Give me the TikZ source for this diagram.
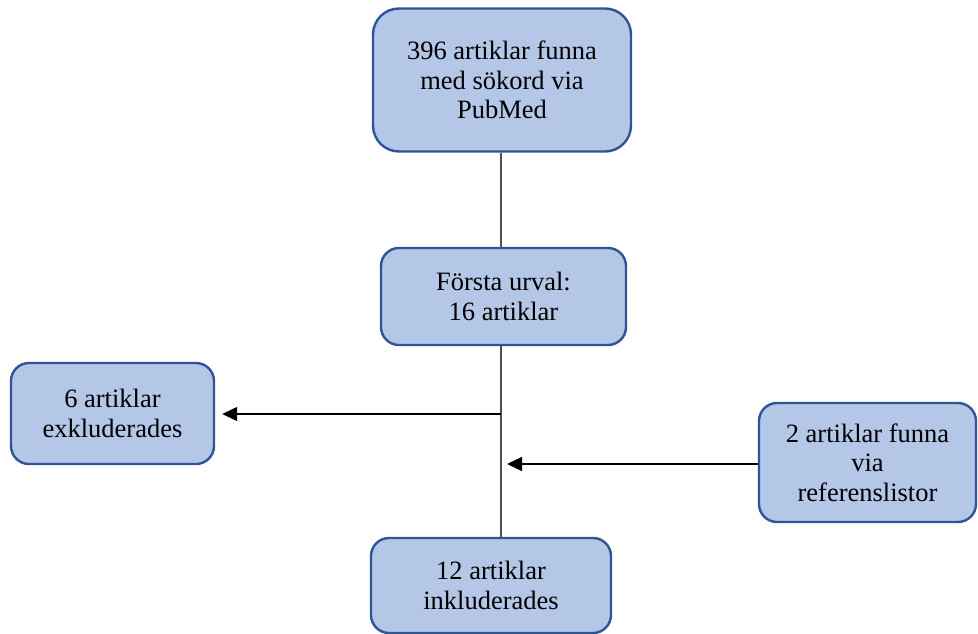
\documentclass[tikz,border=0pt]{standalone}
\usepackage{fontspec}
\setmainfont{Liberation Serif}
\usetikzlibrary{arrows.meta}
\definecolor{boxfill}{HTML}{B4C7E7}
\definecolor{boxdraw}{HTML}{2F5597}
\definecolor{linegray}{HTML}{505050}
\begin{document}
\begin{tikzpicture}[x=1pt,y=-1pt,
  box/.style={draw=boxdraw, fill=boxfill, line width=2.4pt, rounded corners=18pt,
    align=center, inner sep=0pt, font=\fontsize{26.5}{29.5}\selectfont},
  spineline/.style={draw=linegray, line width=2.2pt},
  arr/.style={draw=black, line width=1.3pt, -{Triangle[length=15pt,width=14pt]}}]
\useasboundingbox (0,0) rectangle (978,634);
\node[box, rounded corners=26pt, minimum width=258pt, minimum height=143pt] (b1) at (502,80)
  {396 artiklar funna\\med sökord via\\PubMed};
\node[box, minimum width=245pt, minimum height=97pt] (b2) at (503.5,296.5)
  {Första urval:\\16 artiklar};
\node[box, minimum width=203pt, minimum height=101pt] (b3) at (112.5,413.5)
  {6 artiklar\\exkluderades};
\node[box, minimum width=217pt, minimum height=119pt] (b4) at (867.5,462.5)
  {2 artiklar funna\\via\\referenslistor};
\node[box, minimum width=240pt, minimum height=95pt] (b5) at (491,585.5)
  {12 artiklar\\inkluderades};
\coordinate (spine) at (501,0);
\coordinate (j1) at (501,414);
\coordinate (j2) at (507,464);
\draw[spineline] (b1.south -| spine) -- (b2.north -| spine);
\draw[spineline] (b2.south -| spine) -- (b5.north -| spine);
\draw[arr, shorten >=7pt] (j1) -- (b3.east |- j1);
\draw[arr] (b4.west |- j2) -- (j2);
\end{tikzpicture}
\end{document}
